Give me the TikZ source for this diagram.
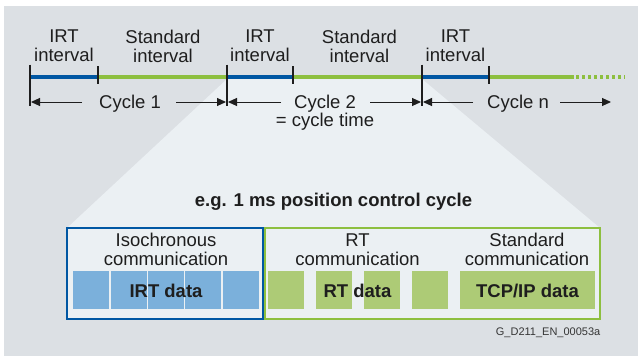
\documentclass[tikz,border=0pt]{standalone}
\usepackage{fontspec}
\setmainfont{Liberation Sans}
\usetikzlibrary{arrows.meta}
\definecolor{bggray}{HTML}{DCE0E4}
\definecolor{lightbg}{HTML}{EBF0F3}
\definecolor{irtblue}{HTML}{0057A3}
\definecolor{stdgreen}{HTML}{8DBF3F}
\definecolor{cellblue}{HTML}{7BB0DB}
\definecolor{cellgreen}{HTML}{ADCB76}
\definecolor{txt}{HTML}{1E1E1E}
\tikzset{
  lbl/.style={font=\fontsize{18.5}{19}\selectfont, text=txt, align=center, inner sep=0pt},
  blbl/.style={font=\fontsize{18.5}{19}\selectfont\bfseries, text=txt, align=center, inner sep=0pt},
  irtseg/.style={draw=irtblue, line width=4.5pt},
  stdseg/.style={draw=stdgreen, line width=4.5pt},
  dotseg/.style={draw=stdgreen, line width=4.5pt, dash pattern=on 2.6pt off 3.4pt},
  tick/.style={draw=txt, line width=2pt},
  cyc/.style={draw=txt, line width=1pt, -{Triangle[length=9pt,width=8pt]}},
  cellb/.style={fill=cellblue},
  cellg/.style={fill=cellgreen},
}
\begin{document}
\begin{tikzpicture}[x=1pt,y=-1pt]
\useasboundingbox (0,0) rectangle (638,356);
\fill[bggray] (4,6) rectangle (638,356);
\fill[lightbg] (227,79) -- (422,79) -- (600,228) -- (600,319) -- (67,319) -- (67,228) -- cycle;

% timeline points
\coordinate (p0) at (30,77);
\coordinate (p1) at (97.5,77);
\coordinate (p2) at (227,77);
\coordinate (p3) at (293,77);
\coordinate (p4) at (422,77);
\coordinate (p5) at (489,77);
\coordinate (p6) at (574,77);
\coordinate (p7) at (625,77);

\draw[irtseg] (p0) -- (p1);
\draw[stdseg] (p1) -- (p2);
\draw[irtseg] (p2) -- (p3);
\draw[stdseg] (p3) -- (p4);
\draw[irtseg] (p4) -- (p5);
\draw[stdseg] (p5) -- (p6);
\draw[dotseg] ([xshift=2pt]p6) -- (p7);

% ticks
\coordinate (k0) at (30,106);
\coordinate (k2) at (227,106);
\coordinate (k4) at (422,106);
\draw[tick] (30,64.5) -- (k0);
\draw[tick] (227,64.5) -- (k2);
\draw[tick] (422,64.5) -- (k4);
\draw[tick] (97.5,66) -- (97.5,84);
\draw[tick] (293,66) -- (293,84);
\draw[tick] (489,66) -- (489,84);

% interval labels
\node[lbl] (l1) at (64,46) {IRT\\interval};
\node[lbl] (l2) at (163,46) {Standard\\interval};
\node[lbl] (l3) at (260,46) {IRT\\interval};
\node[lbl] (l4) at (359.5,46) {Standard\\interval};
\node[lbl] (l5) at (455.5,46) {IRT\\interval};

% cycle arrows
\coordinate (a0) at (30,102);
\coordinate (a2) at (227,102);
\coordinate (a4) at (422,102);
\coordinate (c1a) at (82,102);
\coordinate (c1b) at (176,102);
\coordinate (c2a) at (281,102);
\coordinate (c2b) at (370,102);
\coordinate (cna) at (473,102);
\coordinate (cnb) at (560,102);
\coordinate (cnend) at (611,102);
\node[lbl, anchor=base] (cy1) at (130,108) {Cycle 1};
\node[lbl, anchor=base] (cy2) at (325,108) {Cycle 2};
\node[lbl, anchor=base] (cyt) at (325,126) {= cycle time};
\node[lbl, anchor=base] (cyn) at (518,108) {Cycle n};
\draw[cyc] (c1a) -- ([xshift=1pt]a0);
\draw[cyc] (c1b) -- ([xshift=-1pt]a2);
\draw[cyc] (c2a) -- ([xshift=1pt]a2);
\draw[cyc] (c2b) -- ([xshift=-1pt]a4);
\draw[cyc] (cna) -- ([xshift=1pt]a4);
\draw[cyc] (cnb) -- (cnend);

% title
\node[blbl, anchor=base] (title) at (333.5,206) {e.g. 1 ms position control cycle};

% cells
\fill[cellb] (73,271) rectangle (109,309);
\fill[cellb] (111,271) rectangle (147,309);
\fill[cellb] (148,271) rectangle (184,309);
\fill[cellb] (185,271) rectangle (221,309);
\fill[cellb] (223,271) rectangle (259,309);
\fill[cellg] (268,271) rectangle (304,309);
\fill[cellg] (316,271) rectangle (352,309);
\fill[cellg] (364,271) rectangle (400,309);
\fill[cellg] (412,271) rectangle (448,309);
\fill[cellg] (460,271) rectangle (595,309);

% boxes
\draw[irtblue, line width=2pt] (67,228) rectangle (262.5,319);
\draw[stdgreen, line width=2pt] (264.5,228) rectangle (600,319);

\node[lbl] (iso) at (166,249.5) {Isochronous\\communication};
\node[lbl] (rtc) at (357.5,249.5) {RT\\communication};
\node[lbl] (stc) at (527,249.5) {Standard\\communication};
\node[blbl, anchor=base] (irtd) at (166,297) {IRT data};
\node[blbl, anchor=base] (rtd) at (357.5,297) {RT data};
\node[blbl, anchor=base] (tcpd) at (527.5,297) {TCP/IP data};

\node[font=\fontsize{11}{12}\selectfont, text=txt!90, anchor=base east, inner sep=0pt] (ref) at (600.5,335.5) {G\_D211\_EN\_00053a};
\end{tikzpicture}
\end{document}
